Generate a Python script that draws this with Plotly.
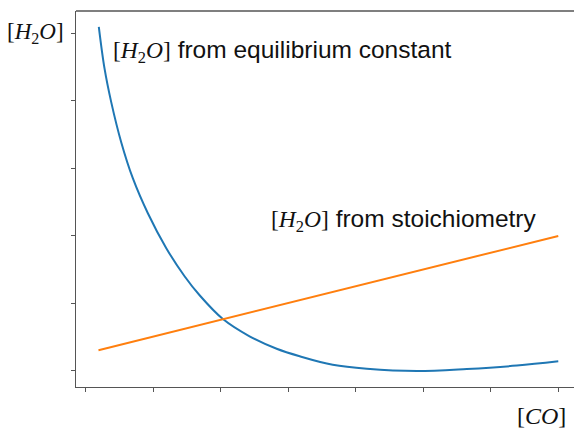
import plotly.graph_objects as go

# Data (arbitrary units; x ticks at 0..7, y ticks at 0..5)
eq_x = [0.190, 0.274, 0.374, 0.522, 0.694, 0.917, 1.190, 1.461, 1.684, 2.025, 2.424, 2.826,
        3.168, 3.657, 4.162, 4.904, 5.645, 6.387, 7.0]
eq_y = [5.096, 4.484, 3.981, 3.388, 2.855, 2.336, 1.818, 1.403, 1.121, 0.773, 0.514, 0.329,
        0.218, 0.092, 0.033, 0.0, 0.030, 0.080, 0.144]
st_x = [0.185, 7.0]
st_y = [0.307, 2.0]
x_ticks = [0, 1, 2, 3, 4, 5, 6, 7]
y_ticks = [0, 1, 2, 3, 4, 5]

W, H = 574, 428
ML, MR, MT, MB = 76, 0, 11, 41

SERIF = "font-family:'Liberation Serif', serif"
SANS = "Liberation Sans, Arial, sans-serif"
def h2o(size):
    return f"<span style=\"{SERIF};font-size:{size}px\">[<i>H</i><sub>2</sub><i>O</i>]</span>"
co = f"<span style=\"{SERIF};font-size:24px\">[<i>CO</i>]</span>"

fig = go.Figure()
fig.add_trace(go.Scatter(x=eq_x, y=eq_y, mode="lines", line=dict(color="#1f77b4", width=2, shape="spline"),
                         hoverinfo="skip", showlegend=False))
fig.add_trace(go.Scatter(x=st_x, y=st_y, mode="lines", line=dict(color="#ff7f0e", width=2),
                         hoverinfo="skip", showlegend=False))

axis_common = dict(showgrid=False, zeroline=False, showline=True, linecolor="#555", linewidth=1.3,
                   ticks="outside", ticklen=4, tickwidth=1, tickcolor="#555", showticklabels=False)
fig.update_xaxes(range=[-0.148, 7.233], tickvals=x_ticks, **axis_common)
fig.update_yaxes(range=[-0.237, 5.33], tickvals=y_ticks, **axis_common)

fig.add_shape(type="line", xref="paper", yref="paper", x0=0, x1=1, y0=1, y1=1,
              line=dict(color="#555", width=1.3))

pw, ph = W - ML - MR, H - MT - MB
def px(x):
    return (x - ML) / pw
def py(y):
    return 1 - (y - MT) / ph

font = dict(family=SANS, size=24.5, color="#111")
fig.add_annotation(x=px(111), y=py(51), xref="paper", yref="paper", xanchor="left", yanchor="middle",
                   text=f"{h2o(23.5)} from equilibrium constant", showarrow=False, font=font)
fig.add_annotation(x=px(269), y=py(220), xref="paper", yref="paper", xanchor="left", yanchor="middle",
                   text=f"{h2o(23.5)} from stoichiometry", showarrow=False, font=font)
fig.add_annotation(x=px(66), y=py(33), xref="paper", yref="paper", xanchor="right", yanchor="middle",
                   text=h2o(23), showarrow=False, font=font)
fig.add_annotation(x=px(568), y=py(416), xref="paper", yref="paper", xanchor="right", yanchor="middle",
                   text=co, showarrow=False, font=font)

fig.update_layout(width=W, height=H, margin=dict(l=ML, r=MR, t=MT, b=MB),
                  plot_bgcolor="white", paper_bgcolor="white")

fig.write_html("out.html", config={"displayModeBar": False, "staticPlot": True},
               post_script="document.body.style.margin='0';document.body.style.overflow='hidden';")
